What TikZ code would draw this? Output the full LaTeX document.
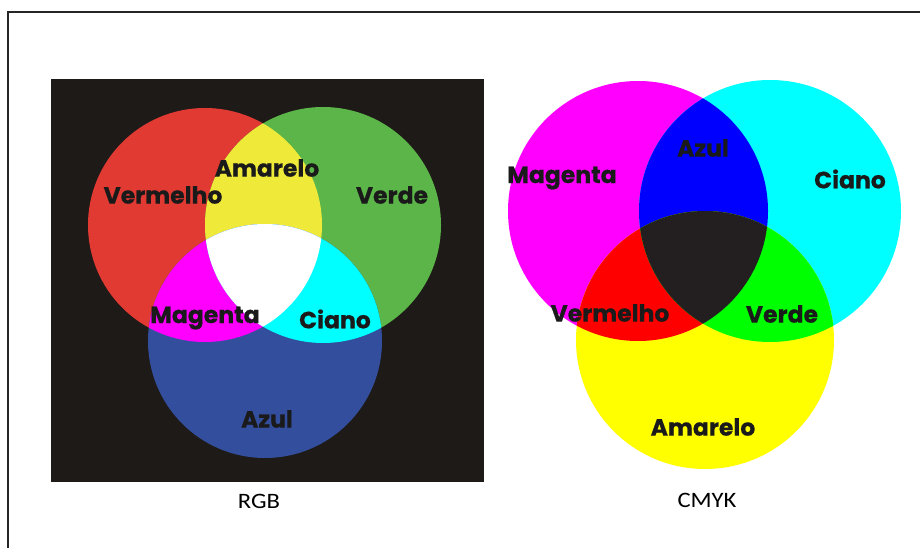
\documentclass[tikz,border=0pt]{standalone}
\usepackage{fontspec}
\newfontfamily\labfont{Poppins}[BoldFeatures={FakeBold=0.6}]
\newfontfamily\capfont{Carlito}
\definecolor{rgbbg}{HTML}{1E1A18}
\definecolor{rR}{HTML}{E03A33}
\definecolor{rG}{HTML}{5BB548}
\definecolor{rB}{HTML}{334E9C}
\definecolor{rY}{HTML}{EFEA3A}
\definecolor{rM}{HTML}{FF00FF}
\definecolor{rC}{HTML}{00FFFF}
\definecolor{cM}{HTML}{FF00FF}
\definecolor{cC}{HTML}{00FFFF}
\definecolor{cY}{HTML}{FFFF00}
\definecolor{cB}{HTML}{0000FF}
\definecolor{cR}{HTML}{FF0000}
\definecolor{cG}{HTML}{00FF00}
\definecolor{cK}{HTML}{231F20}
\definecolor{txt}{HTML}{1A1A1A}
\tikzset{
  lab/.style={font=\labfont\bfseries\fontsize{23.5}{23.5}\selectfont, text=txt, inner sep=0pt},
  captext/.style={font=\capfont\fontsize{22}{22}\selectfont, text=black, inner sep=0pt, xscale=1.12},
}
\begin{document}
\begin{tikzpicture}[x=1pt,y=-1pt]
\useasboundingbox (0,0) rectangle (920,548);
\fill[white] (0,0) rectangle (920,548);
% frame
\draw[line width=1.2pt, black!85] (8,548) -- (8,12) -- (920,12);
% ---------------- RGB ----------------
\fill[rgbbg] (51,79) rectangle (484,482);
\def\Rc{(205,225) circle (117)}
\def\Gc{(323,225) circle (118)}
\def\Bc{(265,341) circle (117)}
\fill[rR] \Rc; \fill[rG] \Gc; \fill[rB] \Bc;
\begin{scope}\clip \Rc; \fill[rY] \Gc; \end{scope}
\begin{scope}\clip \Rc; \fill[rM] \Bc; \end{scope}
\begin{scope}\clip \Gc; \fill[rC] \Bc; \end{scope}
\begin{scope}\clip \Rc; \clip \Gc; \fill[white] \Bc; \end{scope}
\node[lab] (rAmarelo) at (267,168) {Amarelo};
\node[lab] (rVermelho) at (163,195) {Vermelho};
\node[lab] (rVerde) at (392,195) {Verde};
\node[lab] (rMagenta) at (205,318) {Magenta};
\node[lab] (rCiano) at (335,319) {Ciano};
\node[lab] (rAzul) at (267,419) {Azul};
\node[captext] (rgb) at (259,501) {RGB};
% ---------------- CMYK ----------------
\def\Mc{(638,211) circle (130)}
\def\Cc{(770,211) circle (131)}
\def\Yc{(705,340) circle (129)}
\fill[cM] \Mc; \fill[cC] \Cc; \fill[cY] \Yc;
\begin{scope}\clip \Mc; \fill[cB] \Cc; \end{scope}
\begin{scope}\clip \Mc; \fill[cR] \Yc; \end{scope}
\begin{scope}\clip \Cc; \fill[cG] \Yc; \end{scope}
\begin{scope}\clip \Mc; \clip \Cc; \fill[cK] \Yc; \end{scope}
\node[lab] (cAzul) at (703,148) {Azul};
\node[lab] (cMagenta) at (562,178) {Magenta};
\node[lab] (cCiano) at (850,179) {Ciano};
\node[lab] (cVermelho) at (610,313) {Vermelho};
\node[lab] (cVerde) at (782,314) {Verde};
\node[lab] (cAmarelo) at (703,427) {Amarelo};
\node[captext] (cmyk) at (707,500) {CMYK};
\end{tikzpicture}
\end{document}
